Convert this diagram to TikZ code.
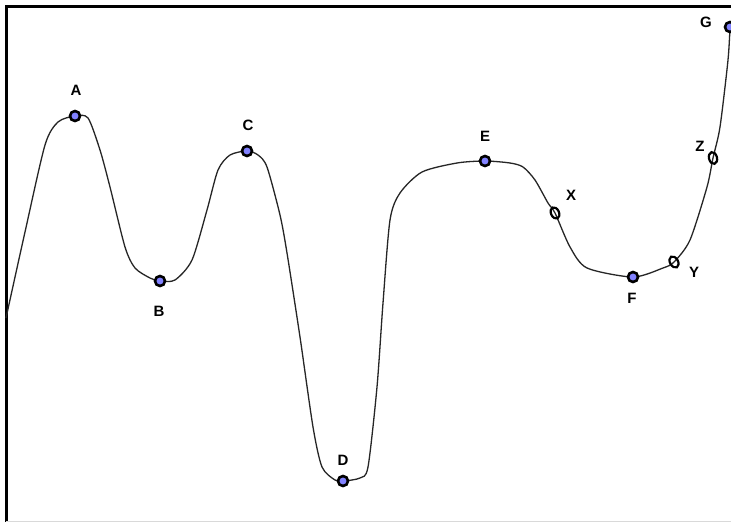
\documentclass[tikz,border=0pt]{standalone}
\usepackage{fontspec}
\setmainfont{Liberation Sans}
\usetikzlibrary{shapes.geometric}
\definecolor{dotblue}{RGB}{130,130,255}
\tikzset{
  lbl/.style={font=\fontsize{15}{17}\selectfont\bfseries, inner sep=0pt},
  fulldot/.style={circle, draw=black, line width=2.6pt, fill=dotblue, minimum size=10pt, inner sep=0pt},
  opendot/.style={ellipse, draw=black, line width=2.2pt, fill=none, minimum width=8pt, minimum height=12pt, inner sep=0pt},
  curve/.style={line width=1.3pt, black!85}
}
\begin{document}
\begin{tikzpicture}[x=1pt,y=-1pt]
\useasboundingbox (0,0) rectangle (731,522);
\fill[white] (0,0) rectangle (731,522);
% frame
\draw[line width=3pt] (6,522) -- (6,6) -- (731,6);
\draw[black!15, line width=1pt] (6,521.5) -- (731,521.5);
% key points
\coordinate (pA) at (75,116);
\coordinate (pB) at (160,281);
\coordinate (pC) at (247,151);
\coordinate (pD) at (343,481);
\coordinate (pE) at (485,161);
\coordinate (pX) at (555,213);
\coordinate (pF) at (633,277);
\coordinate (pY) at (674,262);
\coordinate (pZ) at (713,158);
\coordinate (pG) at (730,27);
% curve
\draw[curve] plot[smooth, tension=0.45] coordinates {
 (6,318) (25,232) (45,145) (58,122) (pA) (88,118) (100,150) (110,187) (125,247)
 (135,268) (150,278) (pB) (175,280) (192,260) (207,210) (218,170) (230,155)
 (pC) (258,155) (267,167) (280,215) (287,253) (300,337) (313,427) (322,467)
 (335,480) (pD) (360,478) (368,467) (377,387) (383,303) (390,220) (400,193)
 (422,172) (457,163) (pE) (510,163) (523,167) (535,180) (548,203) (pX)
 (570,247) (587,268) (pF) (663,268) (pY) (690,240) (707,187) (pZ) (720,127)
 (728,60) (pG)};
% markers
\node[fulldot] (mA) at (pA) {};
\node[fulldot] (mB) at (pB) {};
\node[fulldot] (mC) at (pC) {};
\node[fulldot] (mD) at (pD) {};
\node[fulldot] (mE) at (pE) {};
\node[fulldot] (mF) at (pF) {};
\node[fulldot] (mG) at (pG) {};
\node[opendot, rotate=25] (mX) at (pX) {};
\node[opendot, rotate=30] (mY) at (pY) {};
\node[opendot, rotate=15] (mZ) at (pZ) {};
% labels
\node[lbl] (lA) at (76,90) {A};
\node[lbl] (lB) at (159,311) {B};
\node[lbl] (lC) at (248,125) {C};
\node[lbl] (lD) at (343,460) {D};
\node[lbl] (lE) at (485,136) {E};
\node[lbl] (lF) at (632,298) {F};
\node[lbl] (lX) at (571,195) {X};
\node[lbl] (lY) at (694,272) {Y};
\node[lbl] (lZ) at (700,146) {Z};
\node[lbl] (lG) at (706,22) {G};
\end{tikzpicture}
\end{document}
